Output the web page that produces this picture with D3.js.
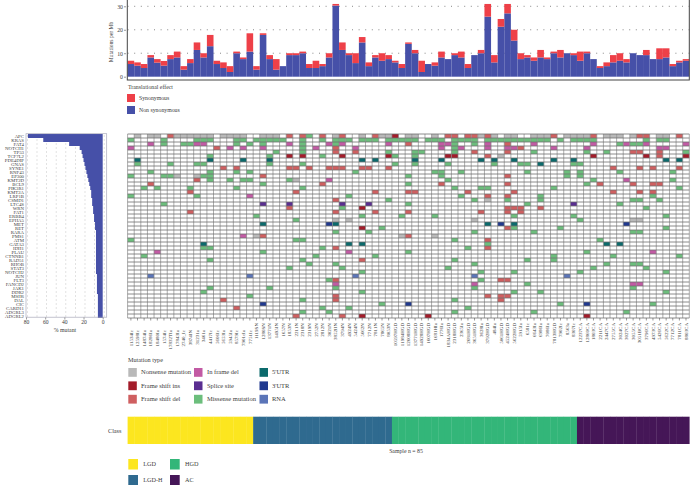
<!DOCTYPE html>
<html>
<head>
<meta charset="utf-8">
<script src="https://cdn.jsdelivr.net/npm/d3@7"></script>
<style>
  body { margin: 0; background: #fff; }
  text { font-family: "Liberation Serif", serif; fill: #3c3c3c; }
  .axis text { fill: #3c3c3c; }
  .axis line { stroke: #555; stroke-width: 0.6; }
</style>
</head>
<body>
<div id="chart"></div>
<script>
// sample ids, one per column of the oncoprint
var samples = ["11534Ic","12598Ic","14874Ia","18286Ia","18480Ia","1574Ic","17832TIa","17843Ia","2740_Ic","3874IN","31231a","3461a","4417Ic","5606Ic","5653Ia","5945Ia","8579Ic","7901cIa","7751Ic",
  "1119SN","1280SN","13771N","1495IN","1657N","1853N","2211N","2318N","2319N","2752N","2812N","3021N","3852IIN","3794N","4924N","5424N","5662N","7712N","7811N","7865N","8053N",
  "10597HGD","11984HGD","12608HGD","13771HGD","14928HGD","1607HGD","1681HIa","1776Ia","1834AHGD","2318HGD","2365Ia","2681HGD","3651HGD","3628Ia","3792HGD","484Ia","5061HGD","4524HGD","5622HGD","5915Ia","6581c","6643Ia","6986Ia","7086Ia","7813HGD","7902Ic","8563a","8307Ic",
  "12237CA","12860CA","1803CA","2211CA","2447CA","2755CA","3024CA","3027CA","3055CA","3051BCA","3796CA","4973CA","5426CA","5622CA","7712CA","7811CA","8803CA"];

// mutations per Mb, stacked in the top panel
var nonSyn = [5.4,4.7,3.7,8.2,6,4.7,7.5,8.2,3,5.8,11.4,8.2,13,5.4,3.7,2,10,7.5,10.7,3,17.8,7.5,3,4.5,9.2,9.2,10,3.7,3.7,4.5,8.2,30.3,11.4,9.2,5.8,14.6,4.5,8.2,6.8,7.5,6.1,3.7,14,
  10,2,5.4,4.7,8.2,7.5,9.2,8.2,3.7,9.2,10,25.6,6.1,21.3,27,15.4,7.5,8.2,6.8,8.2,7.5,10,8.2,10,9.2,6.8,10,7.5,3.7,4.5,6.1,6.8,6.1,10,9.2,9.2,7.5,7.5,8.2,4.5,6.1,6.8];
var syn = [1.4,1.4,1.7,1,1.5,2,1.7,2.5,1.5,1.7,3.2,1.8,4.8,1.4,2.4,2.5,0.7,0.7,7.8,1.5,0.7,1.7,4.5,0,0.8,0.8,0.7,1.7,3.1,0.9,1.8,0.7,3.2,0.8,4.2,2.3,1.6,1,3.2,1.7,0.7,1.7,0.6,
  1.4,4.8,0,1.4,2.5,0,0.8,2.5,1.7,0,1.4,5.4,3.1,3.3,4,4.6,2.5,1,1.4,3.2,0.7,0.7,3.2,0,0.8,3.9,0.7,0,0.8,1.6,3.1,3.2,1.4,0,0,2.2,0,4.6,3.9,0.9,0.7,0.7];

// genes, top to bottom, and their % mutant bar
var genes = ["APC","KRAS","FAT4","NOTCH1","TP53","TCF7L2","PDE4DIP","GNAS","SYNE1","RNF43","EP300","KMT2D","BCL9","PIK3R1","KMT2A","LRP1B","CSMD1","LTC4S","WRN","FAT1","ERBB4","EPHA5","MET","RET","RARA","PMS1","ATM","GATA3","IDH1","PLAU","CTNNB1","RAD51","RHOB","STAT3","NOTCH2","JUN","FLT3","FANCD2","JAK1","DDR2","MSH6","DAL","CIC","CARD11","ADGRL3","ADGRL2"];
var pctMutant = [78,62,35,24,22,21,20,19,18,17,16,15,14,13,12,12,11,11,10,10,9,9,8,8,7,7,7,7,7,7,7,7,7,7,7,6,6,6,6,6,5,5,5,5,5,5];

// oncoprint cells for each gene: letter is the mutation type, number is the sample column
var geneCells = [
  "n1 n3 n4 d6 n7 n8 n9 n10 n11 n12 n14 n15 n16 n17 n20 n21 n22 d24 d26 m27 d29 n31 d32 n35 d37 n38 n39 i40 n42 n43 n46 d48 d49 d51 d52 n53 d54 n55 n57 n58 n61 n62 n63 d64 n66 n67 n68 n69 d70 n72 n73 n74 n76 d77 d78 n80 n81 d83",
  "m0 m5 m10 m11 m12 m16 m17 m19 m20 m21 m22 m23 m26 m29 m31 m32 m33 m35 m36 m37 m39 m40 m41 m42 m43 m45 m46 m47 m49 m50 m51 m52 m54 m55 m56 m57 m58 m59 m60 m61 m62 m63 m65 m67 m68 m69 m70 m78 m80 m81",
  "f3 m5 m8 m9 f10 f11 m16 m18 m20 f24 m26 f30 m31 f32 f39 d42 f47 f48 m49 m52 f54 d57 f61 f70 m74 f75 m76 m77 f78 f84",
  "f0 d13 f15 f17 f20 m26 f28 f34 d31 f47 m49 f50 f54 f57 f58 d59 f64 f69 f80 f81",
  "m22 m26 d31 d34 m39 m43 m44 m49 d52 d57 m61 m69 m72 d76 d77 d80 m84",
  "m12 m21 i24 i26 m29 i32 i39 m40 m43 i48 i49 d54 n56 i70 i78 d80 i84",
  "51 512 517 521 535 537 543 547 553 555 558 564 567 581 583",
  "m1 m6 m10 m11 m21 m26 m40 m43 m48 m55 m59 m60 562 m67 m68",
  "d14 d16 d24 d25 d27 d30 d31 d32 d35 d36 d39 d73 d77 d79 d83",
  "m3 m12 m16 m18 m34 m46 m47 m50 m60 m66 m68 m74 m82",
  "m0 m5 m6 n7 n10 m11 m12 d20 m42 m47 d57 m66 m68",
  "d10 m12 m15 m17 m18 m24 n25 f30 m48 m70 f75 m82",
  "d3 m20 d29 m42 d47 d57 m69 d71 d76 d79 d80",
  "m2 m4 m9 m16 m26 m49 m53 m54 m64 m83",
  "d9 d25 d37 d42 d43 d51 d58 d73 d77 d79",
  "m0 m10 f18 m33 m50 d54 d57 m62 m79",
  "d31 m39 m52 n54 m57 m62 m76 m77 m80",
  "m5 s20 s24 s32 s36 m42 m60 s67 m74",
  "d24 m32 i35 d57 d58 d59 d62 m78",
  "d9 d31 d37 d42 d53 d57 d59",
  "m19 m35 m41 m46 m58 m67 m81",
  "m25 n31 n33 n52 m68 n76 n77",
  "520 330 531 554 356 558 375",
  "i35 m38 d57 m58 m65 m81",
  "m31 m36 m52 m61 m76 m77",
  "f17 n19 d20 n41 d42 n46",
  "m0 m25 m26 m49 d54 m71",
  "511 533 535 m54 572 574",
  "m11 m12 m29 d31 m51 d54",
  "f4 m20 f33 m42 m69 f79",
  "m2 m28 m37 m64 m73 m83",
  "m12 m26 d35 m49 m60 m64",
  "m27 m31 m52 m72 m76 m77",
  "m24 m32 m48 m70 m78",
  "m35 m53 m58 m68 m81",
  "r3 r18 r34 r52 r66",
  "m30 d31 m53 d56 d57",
  "f31 f52 m60 f76 f77",
  "m12 m21 m31 m52 m76",
  "m11 m35 m58 m62 m81",
  "m18 d31 d54 d56 d57",
  "d14 m26 d31 m49 d56",
  "320 m38 342 m65 369 m79",
  "d16 m29 m33 m51",
  "m26 m30 m49 m61 m75",
  "d25 d32 i35 i45 i69"
];

// mutation type legend, column by column
var mutTypes = ["n","i","d","f","s","m","5","3","r"];
var mutNames = ["Nonsense mutation","Frame shift ins","Frame shift del","In frame del","Splice site","Missense mutation","5'UTR","3'UTR","RNA"];
var mutColors = ["#b9b9b9","#a31c2a","#cf5f60","#c25aa4","#5a2e91","#6cbe7c","#0b6a6c","#20398f","#5b75b8"];

// class track
var classNames = ["LGD","LGD-H","HGD","AC"];
var classCounts = [19,21,28,17];
var classColors = ["#fce61f","#2f6a8f","#33b679","#451657"];

var width = 691, height = 485;

var svg = d3.select("#chart").append("svg")
  .attr("width", width)
  .attr("height", height)
  .style("display", "block");

var x = d3.scaleBand().domain(d3.range(samples.length)).range([127.6, 689.3]);
var y = d3.scaleBand().domain(genes).range([134, 318]);
var color = d3.scaleOrdinal(mutTypes, mutColors);

// top panel, mutations per Mb
var yMut = d3.scaleLinear().domain([0, 30]).range([76.7, 6.3]);

[10, 20, 30].forEach(function(v){
  svg.append("line")
    .attr("x1", 127.6).attr("x2", 689.3)
    .attr("y1", yMut(v)).attr("y2", yMut(v))
    .attr("stroke", "#555")
    .attr("stroke-width", 0.7)
    .attr("stroke-dasharray", "1,5.6");
});

svg.append("g").selectAll("rect")
  .data(nonSyn)
  .enter().append("rect")
  .attr("x", function(d, i){ return x(i); })
  .attr("width", x.bandwidth())
  .attr("y", function(d){ return yMut(d); })
  .attr("height", function(d){ return yMut(0) - yMut(d); })
  .attr("fill", "#4650a8");

svg.append("g").selectAll("rect")
  .data(syn)
  .enter().append("rect")
  .attr("x", function(d, i){ return x(i); })
  .attr("width", x.bandwidth())
  .attr("y", function(d, i){ return yMut(nonSyn[i] + d); })
  .attr("height", function(d){ return yMut(0) - yMut(d); })
  .attr("fill", "#ee4048");

svg.append("rect")
  .attr("x", 127.3).attr("y", -1)
  .attr("width", 562).attr("height", 81)
  .attr("fill", "none")
  .attr("stroke", "#444")
  .attr("stroke-width", 1);

var yMutAxis = svg.append("g")
  .attr("class", "axis")
  .attr("transform", "translate(126,0)")
  .call(d3.axisLeft(yMut).tickValues([0, 10, 20, 30]).tickSize(2).tickPadding(1));
yMutAxis.select(".domain").remove();
yMutAxis.selectAll("text").attr("font-size", 5.8);

svg.append("text")
  .attr("transform", "translate(113,42) rotate(-90)")
  .attr("text-anchor", "middle")
  .attr("font-size", 5.6)
  .text("Mutations per Mb");

// translational effect legend
svg.append("text").attr("x", 128).attr("y", 89).attr("font-size", 5.8).text("Translational effect");
[["Synonymous", "#ee4048", 94], ["Non synonymous", "#4650a8", 106]].forEach(function(d){
  svg.append("rect").attr("x", 127).attr("y", d[2]).attr("width", 8).attr("height", 8).attr("fill", d[1]);
  svg.append("text").attr("x", 139).attr("y", d[2] + 5.8).attr("font-size", 5.8).text(d[0]);
});

// left panel, % mutant
var xPct = d3.scaleLinear().domain([80, 0]).range([26, 102.7]);

svg.append("g").selectAll("line")
  .data(genes)
  .enter().append("line")
  .attr("x1", 27).attr("x2", 106)
  .attr("y1", function(d){ return y(d) + y.bandwidth() / 2; })
  .attr("y2", function(d){ return y(d) + y.bandwidth() / 2; })
  .attr("stroke", "#888")
  .attr("stroke-width", 0.6)
  .attr("stroke-dasharray", "0.8,8.8");

svg.append("g").selectAll("rect")
  .data(pctMutant)
  .enter().append("rect")
  .attr("x", function(d){ return xPct(d); })
  .attr("width", function(d){ return xPct(0) - xPct(d); })
  .attr("y", function(d, i){ return y(genes[i]); })
  .attr("height", y.bandwidth())
  .attr("fill", "#4650a8");

svg.append("rect")
  .attr("x", 26).attr("y", 133.7)
  .attr("width", 80.7).attr("height", 183.5)
  .attr("fill", "none")
  .attr("stroke", "#aab")
  .attr("stroke-width", 0.7);

var xPctAxis = svg.append("g")
  .attr("class", "axis")
  .attr("transform", "translate(0,317.5)")
  .call(d3.axisBottom(xPct).tickValues([80, 60, 40, 20, 0]).tickSize(2).tickPadding(1));
xPctAxis.select(".domain").remove();
xPctAxis.selectAll("text").attr("font-size", 5.6);

svg.append("text")
  .attr("x", 65).attr("y", 332)
  .attr("text-anchor", "middle")
  .attr("font-size", 5.8)
  .text("% mutant");

var yGeneAxis = svg.append("g")
  .attr("class", "axis")
  .attr("transform", "translate(26,0)")
  .call(d3.axisLeft(y).tickSize(0).tickPadding(2));
yGeneAxis.select(".domain").remove();
yGeneAxis.selectAll("text").attr("font-size", 4.8);

// oncoprint cells
geneCells.forEach(function(row, r){
  var cells = row.split(" ").map(function(s){
    return { type: s[0], col: +s.slice(1) };
  });
  svg.append("g").selectAll("rect")
    .data(cells)
    .enter().append("rect")
    .attr("x", function(d){ return x(d.col); })
    .attr("width", x.bandwidth())
    .attr("y", y(genes[r]))
    .attr("height", y.bandwidth())
    .attr("fill", function(d){ return color(d.type); });
});

// grid on top of the cells
svg.append("g").selectAll("line")
  .data(d3.range(samples.length + 1))
  .enter().append("line")
  .attr("x1", function(d){ return x.range()[0] + d * x.step(); })
  .attr("x2", function(d){ return x.range()[0] + d * x.step(); })
  .attr("y1", 134).attr("y2", 318)
  .attr("stroke", "#8a8a8a")
  .attr("stroke-width", 0.7);

svg.append("g").selectAll("line")
  .data(d3.range(genes.length + 1))
  .enter().append("line")
  .attr("x1", 127.6).attr("x2", 689.3)
  .attr("y1", function(d){ return 134 + d * y.step(); })
  .attr("y2", function(d){ return 134 + d * y.step(); })
  .attr("stroke", "#6f6f6f")
  .attr("stroke-width", 0.8);

// sample labels, LGD ones sit a bit lower than the rest
var xAxis = svg.append("g")
  .attr("class", "axis")
  .attr("transform", "translate(0,318)")
  .call(d3.axisBottom(x).tickSize(2.5).tickFormat(function(i){ return samples[i]; }));
xAxis.select(".domain").remove();
xAxis.selectAll("text")
  .attr("font-size", 5)
  .attr("text-anchor", "end")
  .attr("transform", function(d){
    return "translate(1.7," + (d < classCounts[0] ? 12 : 5) + ") rotate(-90)";
  })
  .attr("x", 0).attr("y", 0).attr("dy", 0);

// mutation type legend
svg.append("text").attr("x", 128).attr("y", 362).attr("font-size", 6.2).text("Mutation type");
var legendX = [128.3, 194, 259.5];
var legendTextX = [141, 207, 272];
mutNames.forEach(function(name, i){
  var cx = Math.floor(i / 3), cy = 368 + (i % 3) * 13.4;
  svg.append("rect").attr("x", legendX[cx]).attr("y", cy).attr("width", 8.5).attr("height", 8.8).attr("fill", mutColors[i]);
  svg.append("text").attr("x", legendTextX[cx]).attr("y", cy + 6.2).attr("font-size", 6.5).text(name);
});

// class track
var classOf = [];
classCounts.forEach(function(n, i){
  d3.range(n).forEach(function(){ classOf.push(i); });
});

svg.append("g").selectAll("rect")
  .data(classOf)
  .enter().append("rect")
  .attr("x", function(d, i){ return x(i); })
  .attr("width", x.bandwidth() + 0.3)
  .attr("y", 416.7)
  .attr("height", 27.3)
  .attr("fill", function(d){ return classColors[d]; });

svg.append("text").attr("x", 108).attr("y", 432.5).attr("font-size", 6.2).text("Class");
svg.append("text").attr("x", 406).attr("y", 452.5).attr("text-anchor", "middle").attr("font-size", 5.8).text("Sample n = 85");

var classSwatch = [[128.3, 459], [128.3, 475], [170, 459], [170, 475]];
var classOrder = [0, 1, 2, 3];
classOrder.forEach(function(c, i){
  svg.append("rect").attr("x", classSwatch[i][0]).attr("y", classSwatch[i][1]).attr("width", 9.7).attr("height", 10.5).attr("fill", classColors[c]);
  svg.append("text").attr("x", classSwatch[i][0] + 15).attr("y", classSwatch[i][1] + 7).attr("font-size", 6.2).text(classNames[c]);
});
</script>
</body>
</html>
